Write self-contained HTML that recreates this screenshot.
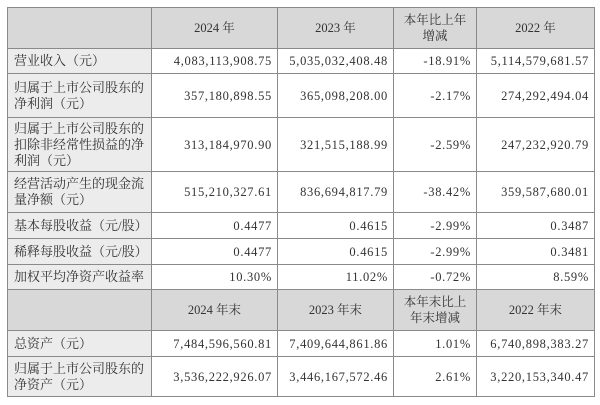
<!DOCTYPE html>
<html><head><meta charset="utf-8"><style>
body{margin:0;width:600px;height:405px;background:#fff;overflow:hidden;font-family:"Liberation Serif","Noto Serif CJK SC",serif;color:#333;}
table{position:absolute;left:7px;top:7px;border-collapse:collapse;table-layout:fixed;width:587px;font-size:12.5px;}
td{border:1px solid #8a8a8a;padding:0 6px;line-height:16px;overflow:hidden;}
td.l{background:#ececec;text-align:left;padding:0 1px 0 6px;font-size:13px;letter-spacing:0;word-break:break-all;}
td.n{text-align:right;letter-spacing:0.7px;padding-right:5px;}
tr.h td{background:#d8d8d8;text-align:center;}
.nw{white-space:nowrap;}
</style></head><body>
<table>
<colgroup><col style="width:144px"><col style="width:126px"><col style="width:116px"><col style="width:83px"><col style="width:118px"></colgroup>
<tr class="h" style="height:41px"><td></td><td>2024 年</td><td>2023 年</td><td>本年比上年<br>增减</td><td>2022 年</td></tr>
<tr style="height:25px"><td class="l nw">营业收入（元）</td><td class="n">4,083,113,908.75</td><td class="n">5,035,032,408.48</td><td class="n">-18.91%</td><td class="n">5,114,579,681.57</td></tr>
<tr style="height:44px"><td class="l">归属于上市公司股东的<br>净利润（元）</td><td class="n">357,180,898.55</td><td class="n">365,098,208.00</td><td class="n">-2.17%</td><td class="n">274,292,494.04</td></tr>
<tr style="height:54px"><td class="l">归属于上市公司股东的<br>扣除非经常性损益的净<br>利润（元）</td><td class="n">313,184,970.90</td><td class="n">321,515,188.99</td><td class="n">-2.59%</td><td class="n">247,232,920.79</td></tr>
<tr style="height:41px"><td class="l">经营活动产生的现金流<br>量净额（元）</td><td class="n">515,210,327.61</td><td class="n">836,694,817.79</td><td class="n">-38.42%</td><td class="n">359,587,680.01</td></tr>
<tr style="height:26px"><td class="l nw">基本每股收益（元/股）</td><td class="n">0.4477</td><td class="n">0.4615</td><td class="n">-2.99%</td><td class="n">0.3487</td></tr>
<tr style="height:26px"><td class="l nw">稀释每股收益（元/股）</td><td class="n">0.4477</td><td class="n">0.4615</td><td class="n">-2.99%</td><td class="n">0.3481</td></tr>
<tr style="height:25px"><td class="l nw">加权平均净资产收益率</td><td class="n">10.30%</td><td class="n">11.02%</td><td class="n">-0.72%</td><td class="n">8.59%</td></tr>
<tr class="h" style="height:41px"><td></td><td>2024 年末</td><td>2023 年末</td><td>本年末比上<br>年末增减</td><td>2022 年末</td></tr>
<tr style="height:26px"><td class="l nw">总资产（元）</td><td class="n">7,484,596,560.81</td><td class="n">7,409,644,861.86</td><td class="n">1.01%</td><td class="n">6,740,898,383.27</td></tr>
<tr style="height:40px"><td class="l">归属于上市公司股东的<br>净资产（元）</td><td class="n">3,536,222,926.07</td><td class="n">3,446,167,572.46</td><td class="n">2.61%</td><td class="n">3,220,153,340.47</td></tr>
</table>
</body></html>
